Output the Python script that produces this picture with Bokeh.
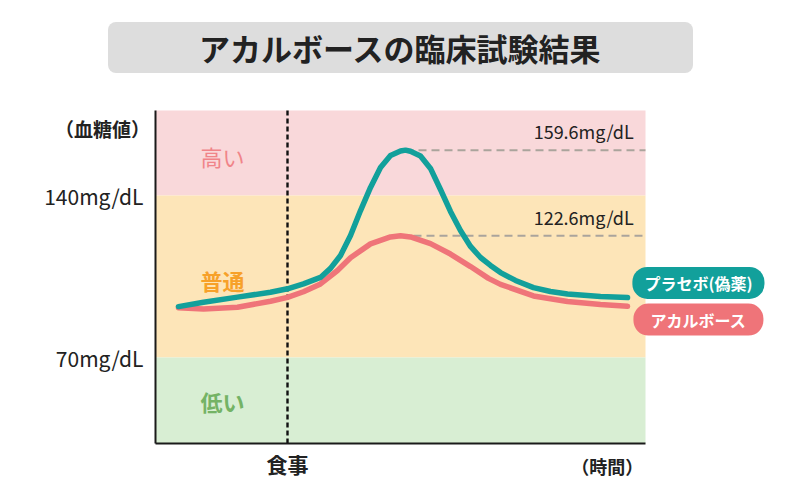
from bokeh.plotting import figure
from bokeh.models import Label, FixedTicker, Range1d
from bokeh.embed import file_html
from bokeh.resources import INLINE

JP = "Noto Sans CJK JP"

# Blood glucose (mg/dL) over time (time in arbitrary units 0-100)
placebo_t = [4.69, 9.80, 16.73, 23.47, 26.94, 30.20, 33.67, 35.71, 37.76, 39.80, 41.84,
             43.88, 45.92, 47.96, 50.00, 51.02, 52.04, 54.08, 56.12, 58.16, 60.20, 62.24,
             64.29, 66.33, 68.37, 70.41, 73.47, 77.14, 80.61, 84.08, 90.82, 96.33]
placebo_bg = [92.0, 93.9, 96.1, 98.2, 99.7, 101.8, 104.6, 108.5, 114.1, 122.7, 133.5,
              143.5, 152.1, 157.3, 159.2, 159.6, 159.1, 157.1, 151.7, 142.6, 133.1, 124.9,
              118.0, 113.2, 109.8, 106.7, 103.3, 100.2, 98.5, 97.4, 96.4, 95.9]
acarbose_t = [4.69, 9.80, 16.73, 23.47, 26.94, 30.20, 33.67, 37.14, 39.80, 43.88, 47.96,
              50.00, 52.04, 56.12, 60.20, 64.29, 67.96, 70.41, 77.14, 84.08, 90.82, 96.33]
acarbose_bg = [91.5, 91.0, 91.7, 94.3, 96.0, 98.4, 101.8, 107.6, 113.1, 119.1, 122.1,
               122.6, 122.1, 119.2, 114.7, 109.3, 104.2, 101.6, 96.6, 94.2, 92.9, 92.1]

series_names = ["プラセボ(偽薬)", "アカルボース"]
series_colors = ["#12a09b", "#ef7479"]

meal_time = 26.94
glucose_ticks = [70, 140]
glucose_tick_labels = ["70mg/dL", "140mg/dL"]

band_names = ["高い", "普通", "低い"]
band_colors = ["#f9d8da", "#fde5b8", "#d8eed3"]
band_text_colors = ["#f08489", "#f7a12a", "#74b365"]
band_text_styles = ["normal", "bold", "bold"]

# plotting area limits; the canvas around it is used for headings and tags
X_MIN, X_MAX = 0, 100
Y_MIN, Y_MAX = 32.84, 176.7

p = figure(width=800, height=500, output_backend="svg", toolbar_location=None,
           x_range=Range1d(-31.63, 131.63), y_range=Range1d(8.21, 224.26),
           min_border=0)
p.outline_line_color = None
p.grid.visible = False
p.background_fill_color = "white"
p.border_fill_color = "white"

# coloured glucose zones
band_lo = [glucose_ticks[1], glucose_ticks[0], Y_MIN]
band_hi = [Y_MAX, glucose_ticks[1], glucose_ticks[0]]
p.quad(left=X_MIN, right=X_MAX, bottom=band_lo, top=band_hi,
       fill_color=band_colors, line_color=None)

band_label_y = [156.9, 103.7, 51.4]
for name, col, style, yy in zip(band_names, band_text_colors, band_text_styles, band_label_y):
    p.add_layout(Label(x=13.7, y=yy, text=name, text_align="center",
                       text_baseline="middle", text_font=JP, text_font_size="22px",
                       text_font_style=style, text_color=col))

# meal marker
p.segment(x0=meal_time, x1=meal_time, y0=Y_MIN, y1=Y_MAX,
          line_color="#111111", line_width=2.4, line_dash="5 3")

# peak reference lines
for t, bg in ((placebo_t, placebo_bg), (acarbose_t, acarbose_bg)):
    i = bg.index(max(bg))
    p.segment(x0=t[i], x1=X_MAX, y0=bg[i], y1=bg[i],
              line_color="#aaa49c", line_width=2, line_dash="8 5")
    p.add_layout(Label(x=97.6, y=bg[i], y_offset=6, text=f"{bg[i]}mg/dL",
                       text_align="right", text_baseline="bottom",
                       text_font=JP, text_font_size="18px", text_color="#222222"))

p.line(acarbose_t, acarbose_bg, line_color=series_colors[1], line_width=5.5,
       line_cap="round", line_join="round")
p.line(placebo_t, placebo_bg, line_color=series_colors[0], line_width=5.5,
       line_cap="round", line_join="round")

# axes pinned to the corner of the zone area
p.yaxis.fixed_location = X_MIN
p.yaxis.bounds = (Y_MIN, Y_MAX)
p.xaxis.fixed_location = Y_MIN
p.xaxis.bounds = (X_MIN, X_MAX)
p.yaxis.ticker = FixedTicker(ticks=glucose_ticks)
p.yaxis.major_label_overrides = dict(zip(glucose_ticks, glucose_tick_labels))
p.xaxis.ticker = FixedTicker(ticks=[meal_time])
p.xaxis.major_label_overrides = {meal_time: "食事"}
for ax in (p.xaxis, p.yaxis):
    ax.axis_line_color = "#1a1a1a"
    ax.axis_line_width = 2
    ax.major_tick_line_color = None
    ax.minor_tick_line_color = None
    ax.major_label_text_font = JP
    ax.major_label_text_color = "#222222"
p.yaxis.major_label_text_font_size = "21px"
p.yaxis.major_label_standoff = 6
p.xaxis.major_label_text_font_size = "21px"
p.xaxis.major_label_text_font_style = "bold"
p.xaxis.major_label_standoff = 0

p.add_layout(Label(x=-10.8, y=168.9, text="（血糖値）", text_align="center",
                   text_baseline="middle", text_font=JP, text_font_size="19px",
                   text_font_style="bold", text_color="#222222"))
p.add_layout(Label(x=92.2, y=23.3, text="（時間）", text_align="center",
                   text_baseline="middle", text_font=JP, text_font_size="18px",
                   text_font_style="bold", text_color="#222222"))

# series tags
for name, col, yy, pad in zip(series_names, series_colors, [102.2, 86.4], [12, 17]):
    p.add_layout(Label(x=110.8, y=yy, text=name, text_align="center",
                       text_baseline="middle", text_font=JP, text_font_size="16px",
                       text_font_style="bold", text_color="white",
                       background_fill_color=col, border_radius=15,
                       padding=dict(left=pad, right=pad, top=4, bottom=4)))

# heading
p.add_layout(Label(x=50, y=203.95, text="アカルボースの臨床試験結果", text_align="center",
                   text_baseline="middle", text_font=JP, text_font_size="31px",
                   text_font_style="bold", text_color="#222222",
                   background_fill_color="#dddddd", border_radius=8,
                   padding=dict(left=91, right=91, top=3, bottom=3)))

open("out.html", "w").write(file_html(p, INLINE))
